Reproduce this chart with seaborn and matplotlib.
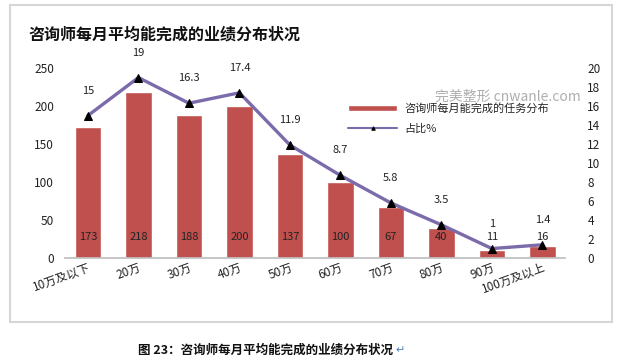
import numpy as np
import pandas as pd
import matplotlib
matplotlib.use("Agg")
import matplotlib.pyplot as plt
import seaborn as sns
from matplotlib.patches import Rectangle

# chart data
categories = ["10万及以下", "20万", "30万", "40万", "50万", "60万", "70万", "80万", "90万", "100万及以上"]
counts = [173, 218, 188, 200, 137, 100, 67, 40, 11, 16]
shares = [15, 19, 16.3, 17.4, 11.9, 8.7, 5.8, 3.5, 1, 1.4]
left_ticks = [0, 50, 100, 150, 200, 250]
right_ticks = list(range(0, 21, 2))

title = "咨询师每月平均能完成的业绩分布状况"
caption = "图 23：咨询师每月平均能完成的业绩分布状况"
bar_label = "咨询师每月能完成的任务分布"
line_label = "占比%"

sns.set_theme(style="white")
plt.rcParams["font.family"] = ["Noto Sans CJK SC", "DejaVu Sans"]

bar_color = "#C0504D"
line_color = "#7B6BAA"

df = pd.DataFrame({"cat": categories, "count": counts, "share": shares})
df["pos"] = np.arange(len(df))

fig = plt.figure(figsize=(6.21, 3.64), dpi=100)
ax = fig.add_axes([0.105, 0.291, 0.805, 0.522])

sns.barplot(data=df, x="cat", y="count", color=bar_color, saturation=1,
            width=0.52, ax=ax, label=bar_label)
if ax.get_legend() is not None:
    ax.get_legend().remove()
ax.set_ylim(0, 250)
ax.set_yticks(left_ticks)
ax.set_xlim(-0.45, len(categories) - 0.55)
ax.set_xlabel("")
ax.set_ylabel("")
ax.tick_params(axis="y", labelsize=8.5, colors="#222222", length=0, pad=8)
ax.tick_params(axis="x", labelsize=8.5, colors="#222222", length=0, pad=2)
plt.setp(ax.get_xticklabels(), rotation=20, ha="right", rotation_mode="anchor")
for s in ["top", "right", "left"]:
    ax.spines[s].set_visible(False)
ax.spines["bottom"].set_color("#BFBFBF")

# bar value labels near the bottom
for p, v in zip(df["pos"], df["count"]):
    ax.text(p, 28, str(v), ha="center", va="center", fontsize=8, color="#222222")

ax2 = ax.twinx()
sns.lineplot(data=df, x="pos", y="share", color=line_color, linewidth=2.4,
             marker="^", markersize=6, markerfacecolor="black",
             markeredgecolor="black", ax=ax2, label=line_label, legend=False)
ax2.set_ylim(0, 20)
ax2.set_yticks(right_ticks)
ax2.set_ylabel("")
ax2.tick_params(axis="y", labelsize=8.5, colors="#222222", length=0, pad=16)
for s in ["top", "right", "left", "bottom"]:
    ax2.spines[s].set_visible(False)

for p, v in zip(df["pos"], df["share"]):
    ax2.annotate(f"{v:g}", (p, v), textcoords="offset points", xytext=(0, 18),
                 ha="center", va="center", fontsize=8, color="#222222")

h1, l1 = ax.get_legend_handles_labels()
h2, l2 = ax2.get_legend_handles_labels()
leg = fig.legend(h1 + h2, l1 + l2, loc="upper left", bbox_to_anchor=(0.545, 0.745),
                 frameon=False, fontsize=8, handlelength=4.4, handleheight=0.5,
                 labelspacing=0.9, handletextpad=0.6)
for h in leg.legend_handles:
    if hasattr(h, "set_markersize"):
        h.set_markersize(2.5)
        h.set_linewidth(1.5)

# watermark
fig.text(0.70, 0.735, "完美整形 cnwanle.com", fontsize=10, color="#9A9A9A",
         alpha=0.8, ha="left", va="center")

# outer frame
fig.patches.append(Rectangle((10 / 621, 0.115), 602 / 621, 0.871, transform=fig.transFigure,
                             fill=False, edgecolor="#D6D6D6", linewidth=1.5))

fig.text(0.045, 0.905, title, fontsize=11.5, fontweight="bold", color="#111111",
         ha="left", va="center")
fig.text(0.427, 0.038, caption, fontsize=9, fontweight="bold", color="#111111",
         ha="center", va="center")
fig.text(0.637, 0.038, "↵", fontsize=8, color="#4F81BD", ha="left", va="center",
         family=["DejaVu Sans"])

fig.savefig("out.png", dpi=100)
